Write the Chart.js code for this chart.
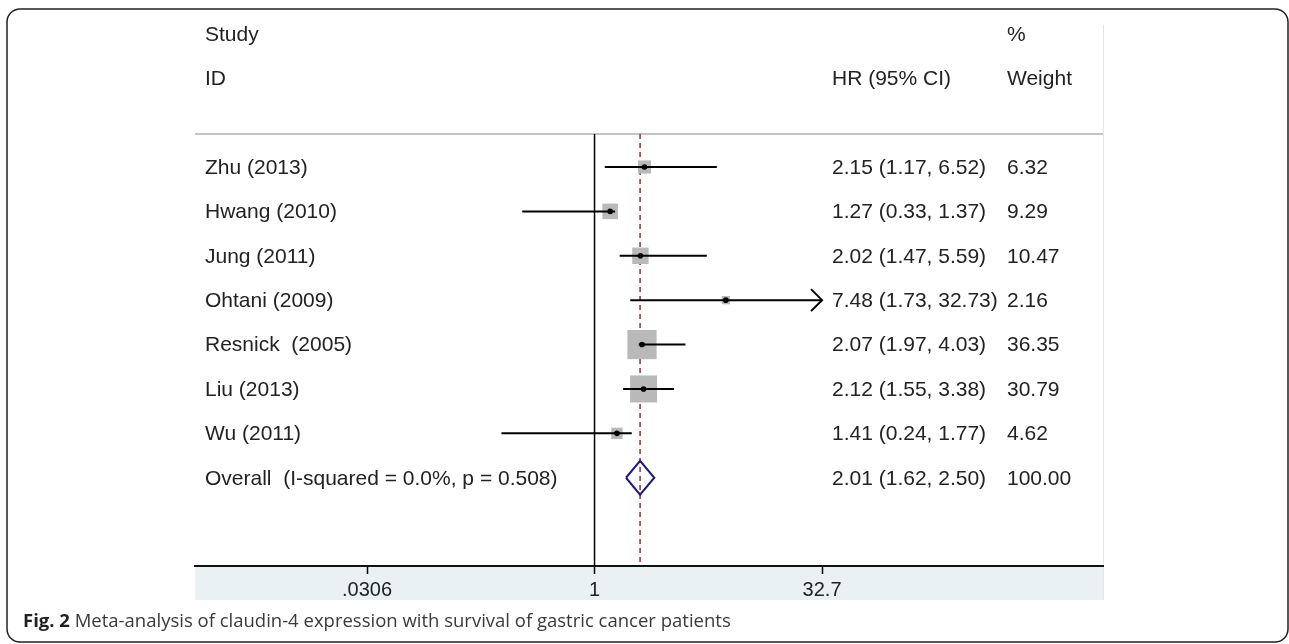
<!DOCTYPE html>
<html>
<head>
<meta charset="utf-8">
<script src="https://cdn.jsdelivr.net/npm/chart.js@4"></script>
<style>
  body { margin: 0; background: #fff; }
  #wrap { width: 1289px; height: 644px; }
</style>
</head>
<body>
<div id="wrap"><canvas id="forest" width="1289" height="644"></canvas></div>
<script>
'use strict'

// studies in the meta-analysis
const studies = ['Zhu (2013)', 'Hwang (2010)', 'Jung (2011)', 'Ohtani (2009)', 'Resnick  (2005)', 'Liu (2013)', 'Wu (2011)'];
const hr = [2.15, 1.27, 2.02, 7.48, 2.07, 2.12, 1.41];
const ciLow = [1.17, 0.33, 1.47, 1.73, 1.97, 1.55, 0.24];
const ciHigh = [6.52, 1.37, 5.59, 32.73, 4.03, 3.38, 1.77];
const weights = [6.32, 9.29, 10.47, 2.16, 36.35, 30.79, 4.62];

// pooled estimate
const overallLabel = 'Overall  (I-squared = 0.0%, p = 0.508)';
const overallHR = 2.01;
const overallLow = 1.62;
const overallHigh = 2.50;
const overallWeight = 100.00;

// x axis ticks
const tickValues = [0.0306, 1, 32.7];
const tickLabels = ['.0306', '1', '32.7'];

const caption = 'Meta-analysis of claudin-4 expression with survival of gastric cancer patients';

const overallRow = studies.length;
const xCut = tickValues[tickValues.length - 1];
const textFont = '21px "Liberation Sans", Arial, sans-serif';
const textColor = '#222';

// CI lines, one dataset per study
const ciSets = studies.map((s, i) => ({
  data: [{x: ciLow[i], y: i}, {x: Math.min(ciHigh[i], xCut), y: i}],
  showLine: true,
  borderColor: '#000',
  borderWidth: 2,
  pointRadius: 0,
  order: 1
}));

const forestPlugin = {
  id: 'forest',
  beforeDraw(chart) {
    const ctx = chart.ctx;
    const a = chart.chartArea;
    ctx.save();
    // band under the axis
    ctx.fillStyle = '#e9f1f3';
    ctx.fillRect(a.left, a.bottom, a.right - a.left, 34);
    // faint right edge of the graph region
    ctx.strokeStyle = '#e3e9eb';
    ctx.lineWidth = 1;
    ctx.beginPath();
    ctx.moveTo(a.right + 0.5, 25);
    ctx.lineTo(a.right + 0.5, a.bottom + 34);
    ctx.stroke();
    // header separator
    ctx.strokeStyle = '#c4c4c4';
    ctx.lineWidth = 2;
    ctx.beginPath();
    ctx.moveTo(a.left, a.top);
    ctx.lineTo(a.right, a.top);
    ctx.stroke();
    // frame
    ctx.strokeStyle = '#222';
    ctx.lineWidth = 1.5;
    ctx.beginPath();
    ctx.roundRect(7, 9, 1281, 633, 13);
    ctx.stroke();
    ctx.restore();
  },
  beforeDatasetsDraw(chart) {
    const ctx = chart.ctx;
    const a = chart.chartArea;
    const xs = chart.scales.x;
    ctx.save();
    // line of no effect
    const x1 = xs.getPixelForValue(1);
    ctx.strokeStyle = '#000';
    ctx.lineWidth = 1.5;
    ctx.beginPath();
    ctx.moveTo(x1, a.top);
    ctx.lineTo(x1, a.bottom);
    ctx.stroke();
    // overall estimate
    const xo = xs.getPixelForValue(overallHR);
    ctx.strokeStyle = '#a3262f';
    ctx.lineWidth = 1.5;
    ctx.setLineDash([5, 4]);
    ctx.beginPath();
    ctx.moveTo(xo, a.top);
    ctx.lineTo(xo, a.bottom);
    ctx.stroke();
    ctx.restore();
  },
  afterDraw(chart) {
    const ctx = chart.ctx;
    const xs = chart.scales.x;
    const ys = chart.scales.y;
    ctx.save();
    // arrows for CIs beyond the axis
    ctx.strokeStyle = '#000';
    ctx.lineWidth = 2;
    studies.forEach((s, i) => {
      if (ciHigh[i] > xCut) {
        const px = xs.getPixelForValue(xCut);
        const py = ys.getPixelForValue(i);
        ctx.beginPath();
        ctx.moveTo(px - 11, py - 11);
        ctx.lineTo(px, py);
        ctx.lineTo(px - 11, py + 11);
        ctx.stroke();
      }
    });
    // text columns
    ctx.font = textFont;
    ctx.fillStyle = textColor;
    ctx.textBaseline = 'middle';
    ctx.textAlign = 'left';
    const colStudy = 205, colHR = 832, colW = 1007;
    ctx.fillText('Study', colStudy, ys.getPixelForValue(-3) + 1);
    ctx.fillText('ID', colStudy, ys.getPixelForValue(-2) + 1);
    ctx.fillText('HR (95% CI)', colHR, ys.getPixelForValue(-2) + 1);
    ctx.fillText('%', colW, ys.getPixelForValue(-3) + 1);
    ctx.fillText('Weight', colW, ys.getPixelForValue(-2) + 1);
    studies.forEach((s, i) => {
      const py = ys.getPixelForValue(i) + 1;
      ctx.fillText(s, colStudy, py);
      ctx.fillText(hr[i].toFixed(2) + ' (' + ciLow[i].toFixed(2) + ', ' + ciHigh[i].toFixed(2) + ')', colHR, py);
      ctx.fillText(weights[i].toFixed(2), colW, py);
    });
    const po = ys.getPixelForValue(overallRow) + 1;
    ctx.fillText(overallLabel, colStudy, po);
    ctx.fillText(overallHR.toFixed(2) + ' (' + overallLow.toFixed(2) + ', ' + overallHigh.toFixed(2) + ')', colHR, po);
    ctx.fillText(overallWeight.toFixed(2), colW, po);
    // caption
    ctx.textBaseline = 'alphabetic';
    ctx.fillStyle = '#231f20';
    ctx.font = 'bold 18.5px "Open Sans", "Noto Sans", sans-serif';
    ctx.fillText('Fig. 2', 23, 627);
    const w0 = ctx.measureText('Fig. 2 ').width;
    ctx.fillStyle = '#3a3a3a';
    ctx.font = '18.5px "Open Sans", "Noto Sans", sans-serif';
    ctx.fillText(caption, 23 + w0, 627);
    ctx.restore();
  }
};

const ctx = document.getElementById('forest');
window.forestChart = new Chart(ctx, {
  type: 'scatter',
  data: {
    datasets: [
      {
        // point estimates
        data: hr.map((v, i) => ({x: v, y: i})),
        pointStyle: 'circle',
        pointRadius: 2.8,
        backgroundColor: '#000',
        borderWidth: 0,
        order: 0
      },
      ...ciSets,
      {
        // study weight boxes
        data: hr.map((v, i) => ({x: v, y: i})),
        pointStyle: 'rect',
        pointRadius: weights.map(w => (1.5 + 4.6 * Math.sqrt(w)) / Math.SQRT2),
        backgroundColor: '#b9b9b9',
        borderWidth: 0,
        order: 2
      },
      {
        // pooled diamond
        data: [
          {x: overallLow, y: overallRow},
          {x: overallHR, y: overallRow - 0.38},
          {x: overallHigh, y: overallRow},
          {x: overallHR, y: overallRow + 0.38},
          {x: overallLow, y: overallRow}
        ],
        showLine: true,
        borderColor: '#1b1b7a',
        borderWidth: 2,
        pointRadius: 0,
        order: 1
      }
    ]
  },
  options: {
    responsive: false,
    animation: false,
    events: [],
    layout: { padding: { left: 195, right: 186, top: 134, bottom: 44 } },
    plugins: { legend: { display: false }, tooltip: { enabled: false } },
    scales: {
      x: {
        type: 'logarithmic',
        bounds: 'data',
        min: 0.002188,
        max: 2427,
        afterBuildTicks: s => { s.ticks = tickValues.map(v => ({value: v})); },
        afterFit: s => { s.height = 34; },
        grid: { display: true, drawOnChartArea: false, drawTicks: true, tickLength: 8, tickColor: '#000', tickWidth: 1.5 },
        border: { display: true, color: '#111', width: 2 },
        ticks: {
          autoSkip: false,
          maxRotation: 0,
          padding: 4,
          color: '#222',
          font: { family: '"Liberation Sans", Arial, sans-serif', size: 20 },
          callback: (v, i) => tickLabels[i]
        }
      },
      y: {
        type: 'linear',
        reverse: true,
        display: false,
        min: -0.743,
        max: 8.988
      }
    }
  },
  plugins: [forestPlugin]
});
</script>
</body>
</html>
